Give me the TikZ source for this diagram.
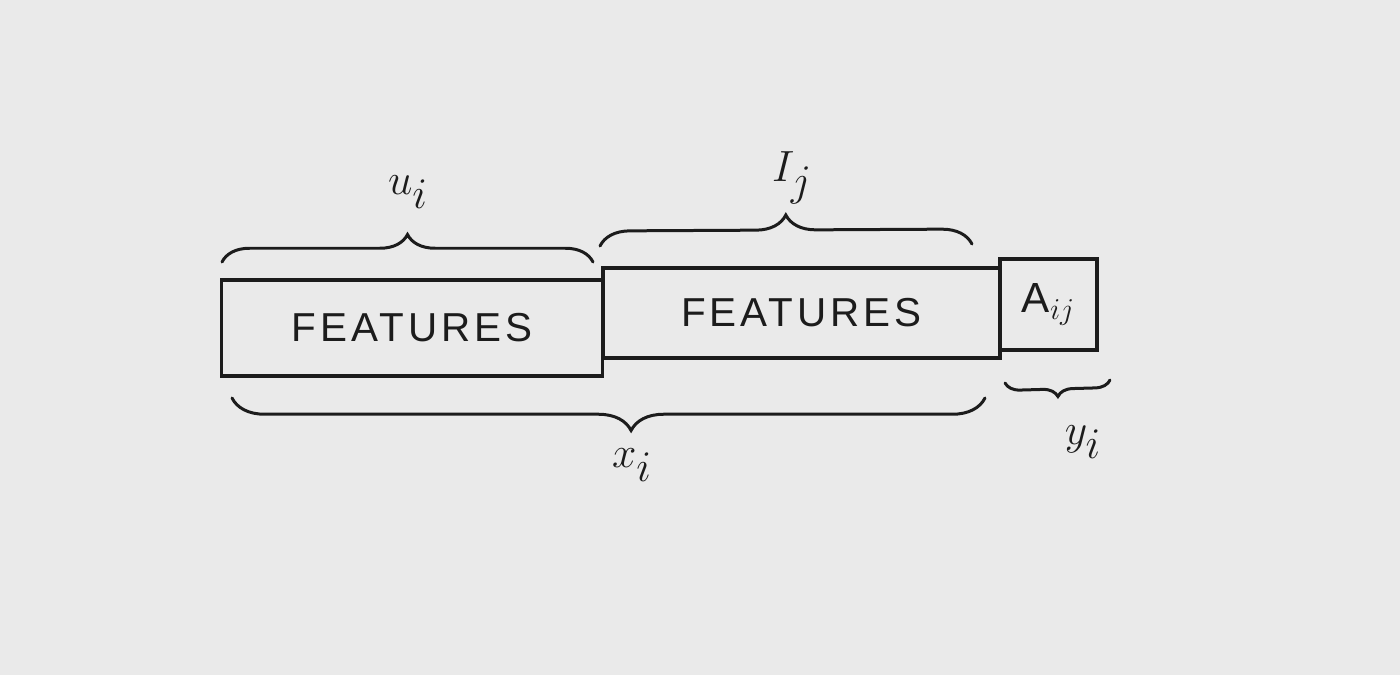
\documentclass[tikz,border=0pt]{standalone}
\usepackage{fontspec}
\setmainfont{Liberation Sans}
\usetikzlibrary{decorations.pathreplacing}
\definecolor{paper}{RGB}{234,234,234}
\definecolor{ink}{RGB}{28,28,28}
\begin{document}
\begin{tikzpicture}[x=0.02cm,y=-0.02cm,
  box/.style={draw=ink,line width=0.065cm,inner sep=0pt,text=ink},
  feat/.style={box,font=\fontsize{23}{28}\selectfont\addfontfeature{LetterSpace=10}},
  brc/.style={draw=ink,line width=0.06cm,line cap=round,decorate,decoration={brace,amplitude=#1}},
  lbl/.style={text=ink,font=\fontsize{46}{54}\selectfont}]
\fill[paper] (0,0) rectangle (1400,675);
\useasboundingbox (0,0) rectangle (1400,675);
% boxes
\node[feat,minimum width=7.62cm,minimum height=1.92cm] (f1) at (412,328) {FEATURES};
\node[feat,minimum width=7.94cm,minimum height=1.8cm] (f2) at (801.5,313) {FEATURES};
\node[box,minimum width=1.94cm,minimum height=1.82cm,font=\fontsize{24}{30}\selectfont] (a) at (1048.5,304.5) {$\mathrm{A}_{ij}$};
% brace endpoints
\coordinate (u1) at (222,262);
\coordinate (u2) at (593,262);
\coordinate (i1) at (600,246);
\coordinate (i2) at (972,244);
\coordinate (x1) at (985,398);
\coordinate (x2) at (232,398);
\coordinate (y1) at (1110,380);
\coordinate (y2) at (1005,383);
% braces
\draw[brc=0.55cm] (u1) -- (u2);
\draw[brc=0.6cm] (i1) -- (i2);
\draw[brc=0.65cm,decoration={aspect=0.47}] (x1) -- (x2);
\draw[brc=0.3cm] (y1) -- (y2);
% labels
\node[lbl] (lu) at (408,192) {$u_i$};
\node[lbl] (li) at (792,178) {$I_j$};
\node[lbl] (lx) at (632,465) {$x_i$};
\node[lbl] (ly) at (1083,442) {$y_i$};
\end{tikzpicture}
\end{document}
